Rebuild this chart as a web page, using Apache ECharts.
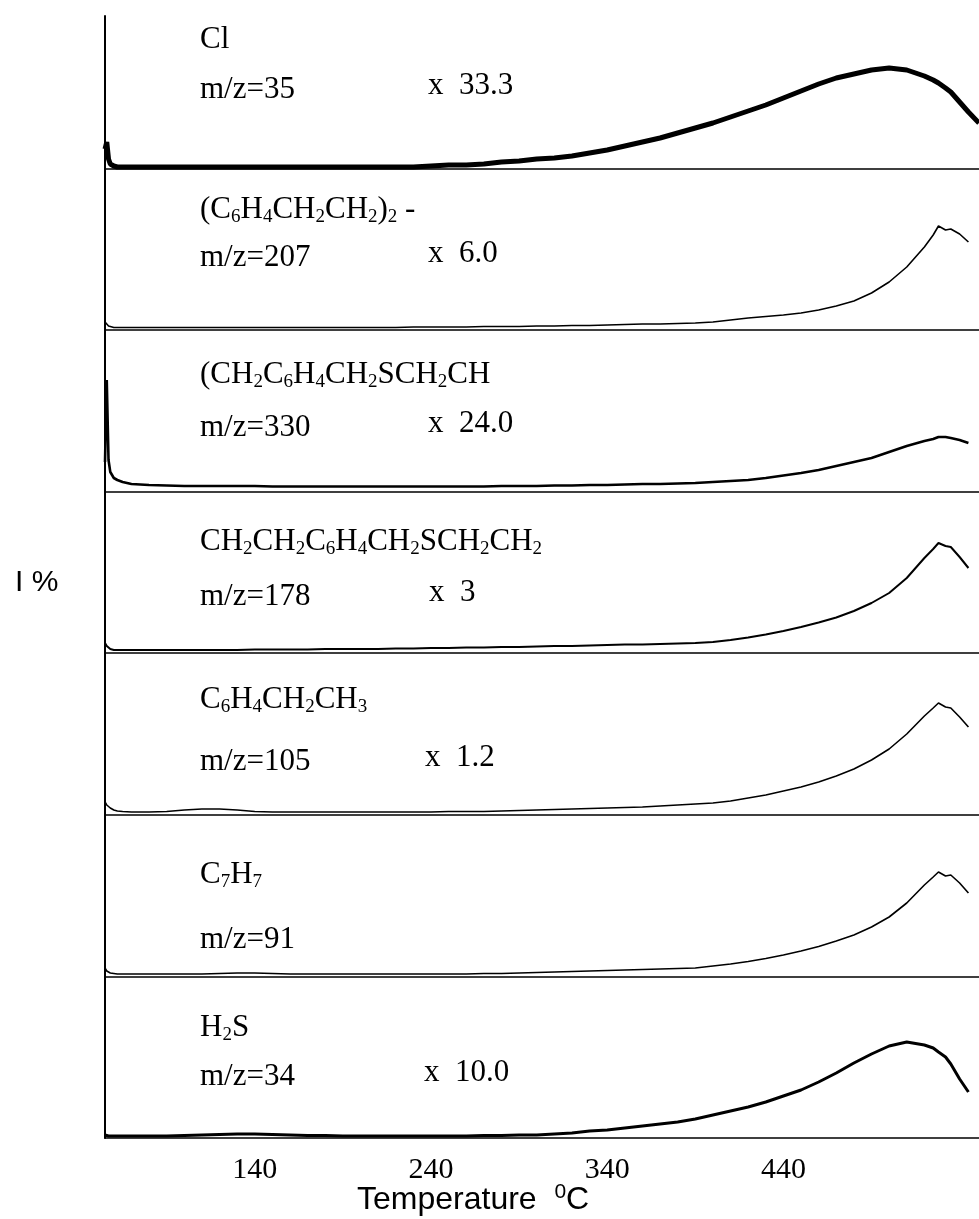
<!DOCTYPE html>
<html>
<head>
<meta charset="utf-8">
<script src="https://cdn.jsdelivr.net/npm/echarts@6/dist/echarts.min.js"></script>
<style>
  html, body { margin: 0; padding: 0; background: #fff; }
  #main { width: 979px; height: 1219px; }
</style>
</head>
<body>
<div id="main"></div>
<script>
// temperature grid (deg C) shared by every trace
var temps = [55, 56, 57, 58, 60, 62, 65, 70,
  80, 90, 100, 110, 120, 130, 140, 150, 160, 170, 180, 190, 200, 210, 220, 230, 240,
  250, 260, 270, 280, 290, 300, 310, 320, 330, 340, 350, 360, 370, 380, 390, 400,
  410, 420, 430, 440, 450, 460, 470, 480, 490, 500, 510, 520,
  525, 528, 532, 535, 540, 545, 551];

// intensities (arbitrary units, 0 = panel baseline)
var mz35 = [20, 27, 10, 5, 3, 2, 2, 2, 2, 2,
  2, 2, 2, 2, 2, 2, 2, 2, 2, 2,
  2, 2, 2, 2, 3, 4, 4, 5, 7, 8,
  10, 11, 13, 16, 19, 23, 27, 31, 36, 41,
  46, 52, 58, 64, 71, 78, 85, 91, 95, 99,
  101, 99, 93, 89, 86, 81, 77, 67, 57, 46];
var mz207 = [8, 6, 4, 3, 2.5, 2.5, 2.5, 2.5, 2.5, 2.5,
  2.5, 2.5, 2.5, 2.5, 2.5, 2.5, 2.5, 2.5, 2.5, 2.5,
  2.5, 2.5, 2.5, 3, 3, 3, 3, 3.5, 3.5, 3.5,
  4, 4, 4.5, 4.5, 5, 5.5, 6, 6, 6.5, 7,
  8, 10, 12, 13.5, 15, 17, 20, 24, 29, 37,
  48, 63, 83, 95, 104, 100, 101, 96, 88, null];
var mz330 = [30, 112, 32, 20, 14, 12, 10, 8, 7, 6.5,
  6, 6, 6, 6, 6, 5.5, 5.5, 5.5, 5.5, 5.5,
  5.5, 5.5, 5.5, 5.5, 5.5, 5.5, 5.5, 5.5, 6, 6,
  6, 6.5, 6.5, 7, 7, 7.5, 8, 8, 8.5, 9,
  10, 11, 12, 14, 16.5, 19, 22, 26, 30, 34,
  40, 46, 51, 53, 55, 55, 54, 52, 49, null];
var mz178 = [10, 7, 5, 4, 3, 3, 3, 3, 3, 3,
  3, 3, 3, 3, 3.5, 3.5, 3.5, 3.5, 4, 4,
  4, 4, 4.5, 4.5, 5, 5, 5.5, 5.5, 6, 6,
  6.5, 7, 7, 7.5, 8, 8.5, 8.5, 9, 9.5, 10,
  11, 13, 15.5, 18.5, 22, 26, 30.5, 35.5, 42, 50,
  60, 75, 95, 104, 110, 107, 106, 96, 85, null];
var mz105 = [13, 10, 8, 7, 5, 4, 3.5, 3, 3, 3.5,
  5, 6, 6, 5, 3.5, 3, 3, 3, 3, 3,
  3, 3, 3, 3, 3, 3.5, 3.5, 3.5, 4, 4.5,
  5, 5.5, 6, 6.5, 7, 7.5, 8, 9, 10, 11,
  12, 14, 17, 20, 24, 28, 33, 39, 46, 55,
  66, 81, 99, 107, 112, 108, 107, 98, 88, null];
var mz91 = [9, 6, 5, 4, 3.5, 3, 3, 3, 3, 3,
  3, 3, 3.5, 4, 4, 3.5, 3, 3, 3, 3,
  3, 3, 3, 3, 3, 3, 3, 3.5, 3.5, 4,
  4.5, 5, 5.5, 6, 6.5, 7, 7.5, 8, 8.5, 9,
  11, 13, 15.5, 18.5, 22, 26, 30.5, 36, 42, 50,
  60, 74, 92, 100, 105, 101, 102, 94, 84, null];
var mz34 = [3, 2, 2, 2, 2, 2, 2, 2, 2, 2,
  2.5, 3, 3.5, 4, 4, 3.5, 3, 2.5, 2.5, 2,
  2, 2, 2, 2, 2, 2, 2, 2.5, 2.5, 3,
  3, 4, 5, 7, 8, 10, 12, 14, 16, 19,
  23, 27, 31, 36, 42, 48, 56, 65, 75, 84,
  92, 96, 93, 90, 86, 81, 74, 59, 46, null];

var formulas = ['Cl', '(C_6H_4CH_2CH_2)_2 -', '(CH_2C_6H_4CH_2SCH_2CH',
  'CH_2CH_2C_6H_4CH_2SCH_2CH_2', 'C_6H_4CH_2CH_3', 'C_7H_7', 'H_2S'];
var mzLabels = ['m/z=35', 'm/z=207', 'm/z=330', 'm/z=178', 'm/z=105', 'm/z=91', 'm/z=34'];
var factors = ['x  33.3', 'x  6.0', 'x  24.0', 'x  3', 'x  1.2', '', 'x  10.0'];
var traces = [mz35, mz207, mz330, mz178, mz105, mz91, mz34];
var tickValues = [140, 240, 340, 440];

// layout
var edges = [16, 169, 330, 492, 653, 815, 977, 1138];
var formulaDy = [24, 41, 45, 50, 47, 60, 51];
var mzDy = [74, 89, 98, 105, 109, 125, 100];
var factorX = [428, 428, 428, 429, 425, 428, 424];
var lineW = [5, 1.6, 2.6, 2, 1.6, 1.6, 3];

var serif = '"Liberation Serif", "Times New Roman", serif';
var sans = '"Liberation Sans", Arial, sans-serif';

function chem(s) {
  var r = '{m|' + s.replace(/_(\d)/g, '}{s|$1}{m|') + '}';
  return r.replace(/\{m\|\}/g, '');
}
var chemRich = {
  m: { fontFamily: serif, fontSize: 31, lineHeight: 34, fill: '#000', verticalAlign: 'middle' },
  s: { fontFamily: serif, fontSize: 19, lineHeight: 22, fill: '#000', verticalAlign: 'bottom' }
};

function buildOption() {
  var grids = [], xAxes = [], yAxes = [], series = [], graphics = [];

  for (var i = 0; i < 7; i++) {
    var panelTop = edges[i], h = edges[i + 1] - edges[i];
    var last = i === 6;
    grids.push({ left: 105, width: 874, top: panelTop, height: h });
    xAxes.push({
      type: 'value', gridIndex: i, min: 55, max: 551,
      axisLine: { show: true, lineStyle: { color: '#000', width: 1.6 } },
      axisTick: { show: false },
      splitLine: { show: false },
      axisLabel: last ? {
        show: true, customValues: tickValues, color: '#000',
        fontFamily: serif, fontSize: 30, margin: 17
      } : { show: false }
    });
    yAxes.push({
      type: 'value', gridIndex: i, min: 0, max: h,
      axisLine: { show: true, onZero: false, lineStyle: { color: '#000', width: 2 } },
      axisTick: { show: false }, axisLabel: { show: false }, splitLine: { show: false }
    });
    series.push({
      type: 'line', xAxisIndex: i, yAxisIndex: i,
      data: temps.map(function (t, k) { return [t, traces[i][k]]; }),
      showSymbol: false, symbol: 'none',
      lineStyle: { color: '#000', width: lineW[i] },
      animation: false
    });
    graphics.push({
      type: 'text', x: 200, y: panelTop + formulaDy[i],
      style: { text: chem(formulas[i]), rich: chemRich, verticalAlign: 'middle', align: 'left' }
    });
    graphics.push({
      type: 'text', x: 200, y: panelTop + mzDy[i],
      style: { text: mzLabels[i], fontFamily: serif, fontSize: 31, fill: '#000', verticalAlign: 'middle' }
    });
    if (factors[i]) {
      graphics.push({
        type: 'text', x: factorX[i], y: panelTop + mzDy[i] - 4,
        style: { text: factors[i], fontFamily: serif, fontSize: 31, fill: '#000', verticalAlign: 'middle' }
      });
    }
  }

  graphics.push({
    type: 'text', x: 15, y: 583,
    style: { text: 'I %', fontFamily: sans, fontSize: 30, fill: '#000', verticalAlign: 'middle' }
  });
  graphics.push({
    type: 'text', x: 357, y: 1200,
    style: {
      text: '{a|Temperature  }{b|0}{a|C}', verticalAlign: 'middle',
      rich: {
        a: { fontFamily: sans, fontSize: 32, lineHeight: 36, fill: '#000', verticalAlign: 'middle' },
        b: { fontFamily: sans, fontSize: 21, lineHeight: 12, fill: '#000', verticalAlign: 'top' }
      }
    }
  });

  return {
    animation: false,
    backgroundColor: '#fff',
    grid: grids,
    xAxis: xAxes,
    yAxis: yAxes,
    series: series,
    graphic: graphics
  };
}

var chart = echarts.init(document.getElementById('main'));
chart.setOption(buildOption());
</script>
</body>
</html>
